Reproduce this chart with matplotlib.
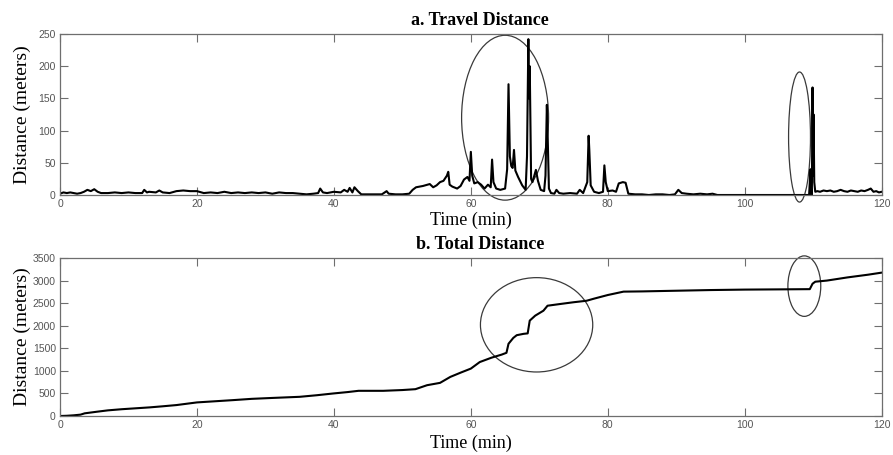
import numpy as np
import matplotlib
matplotlib.use("Agg")
from matplotlib import pyplot as plt
from matplotlib.patches import Ellipse

# a. travel distance per sample: (time min, meters)
travel = [
    (0, 2), (0.5, 4), (1, 3), (1.5, 4), (2, 3), (2.5, 2), (3, 3), (3.5, 5), (4, 8),
    (4.5, 6), (5, 9), (5.5, 5), (6, 3), (7, 3), (8, 4), (9, 3), (10, 4), (11, 3),
    (12, 3), (12.3, 8), (12.7, 4), (13, 5), (14, 4), (14.5, 7), (15, 4), (16, 3),
    (17, 6), (18, 7), (19, 6), (20, 6), (21, 3), (22, 4), (23, 3), (24, 5), (25, 3),
    (26, 4), (27, 3), (28, 4), (29, 3), (30, 4), (31, 2), (32, 4), (33, 3), (34, 3),
    (35, 2), (36, 1), (37, 2), (37.7, 3), (38, 10), (38.4, 4), (39, 3), (40, 5),
    (41, 4), (41.5, 8), (42, 5), (42.3, 11), (42.7, 4), (43, 12), (43.5, 6), (44, 1),
    (45, 1), (46, 1), (47, 1), (47.7, 6), (48, 2), (49, 1), (50, 1), (51, 2),
    (51.5, 8), (52, 12), (53, 14), (54, 17), (54.5, 12), (55, 15), (55.5, 20),
    (56, 22), (56.5, 30), (56.7, 36), (56.9, 16), (57.3, 13), (58, 10), (58.5, 14),
    (59, 24), (59.5, 28), (59.8, 22), (60.0, 67), (60.2, 30), (60.5, 18), (61, 20),
    (61.5, 16), (62, 10), (62.5, 16), (62.9, 12), (63.1, 55), (63.3, 20), (63.7, 10),
    (64.3, 8), (65, 10), (65.3, 40), (65.5, 172), (65.7, 60), (65.9, 45), (66.1, 42),
    (66.3, 70), (66.5, 38), (66.9, 28), (67.5, 15), (68, 8), (68.2, 60), (68.4, 242),
    (68.5, 150), (68.6, 200), (68.8, 25), (69, 20), (69.5, 39), (69.8, 22),
    (70.2, 8), (70.7, 6), (70.9, 30), (71.1, 140), (71.2, 100), (71.4, 10),
    (71.7, 3), (72.2, 2), (72.5, 8), (72.9, 3), (73.5, 2), (74.5, 3), (75.5, 2),
    (75.9, 8), (76.4, 3), (77, 20), (77.2, 92), (77.3, 70), (77.5, 15), (78, 5),
    (78.7, 3), (79.3, 5), (79.5, 46), (79.7, 20), (80, 6), (80.7, 7), (81.2, 5),
    (81.6, 18), (82.2, 20), (82.6, 19), (83, 2), (84, 1), (85, 1), (86, 0), (87, 1),
    (88, 1), (89, 0), (89.8, 1), (90.3, 8), (90.8, 3), (91.5, 2), (92.5, 1),
    (93.5, 2), (94.5, 1), (95.3, 2), (96, 0), (100, 0), (105, 0), (109.4, 0),
    (109.6, 40), (109.7, 0), (109.8, 0), (109.9, 167), (110.0, 30), (110.05, 125),
    (110.15, 20), (110.3, 5), (110.6, 6), (111, 5), (111.5, 7), (112, 6), (112.5, 7),
    (113, 5), (113.5, 6), (114, 8), (114.5, 6), (115, 5), (115.5, 7), (116, 6),
    (116.5, 5), (117, 7), (117.5, 6), (118, 8), (118.4, 10), (118.8, 5), (119.2, 6),
    (119.6, 4), (120, 5),
]

# b. total distance: (time min, meters)
total = [
    (0, 0), (1, 5), (2, 15), (3, 30), (3.6, 59), (5.4, 95), (7, 125), (9, 150),
    (11, 170), (13.1, 191), (15, 215), (17, 242), (20, 301), (22.5, 325),
    (25.3, 352), (28, 380), (31, 400), (35, 425), (37.5, 460), (39.9, 499),
    (42, 530), (43.6, 558), (47.2, 558), (50, 575), (51.9, 594), (53.6, 682),
    (55.5, 734), (57, 866), (58.5, 960), (60, 1050), (61.3, 1195), (63, 1291),
    (64.5, 1360), (65.2, 1400), (65.5, 1600), (66.2, 1730), (66.7, 1790),
    (67.7, 1820), (68.3, 1830), (68.6, 2113), (69.4, 2223), (70.6, 2333),
    (71.2, 2443), (73, 2480), (75, 2520), (76.9, 2553), (78, 2600), (80, 2680),
    (82.3, 2755), (85, 2760), (90, 2775), (95, 2790), (100, 2800), (105, 2805),
    (109.5, 2810), (109.9, 2930), (110.3, 2975), (112, 3000), (115, 3070),
    (118, 3130), (120, 3176),
]

# highlighted regions: (center t, center d, width t, height d)
circles_a = [(65.0, 120, 12.7, 256), (108.0, 90, 3.2, 202)]
circles_b = [(69.6, 2020, 16.4, 2090), (108.7, 2877, 4.8, 1340)]

t_a, d_a = zip(*travel)
t_b, d_b = zip(*total)

W, H = 893, 455
fig = plt.figure(figsize=(W / 100, H / 100), dpi=100)
ax1 = fig.add_axes([60 / W, 1 - 195 / H, 821.7 / W, 161 / H])
ax2 = fig.add_axes([60 / W, 1 - 416 / H, 821.7 / W, 158 / H])

serif = "Liberation Serif"
gray = "#6e6e6e"

panels = [
    (ax1, t_a, d_a, circles_a, "a. Travel Distance", [0, 50, 100, 150, 200, 250], 250, 1.5),
    (ax2, t_b, d_b, circles_b, "b. Total Distance", [0, 500, 1000, 1500, 2000, 2500, 3000, 3500], 3500, 3),
]

for ax, t, d, circles, title, yt, ymax, lp in panels:
    ax.plot(t, d, color="black", lw=1.5)
    for cx, cy, w, h in circles:
        ax.add_patch(Ellipse((cx, cy), w, h, fill=False, edgecolor="#3a3a3a",
                             lw=0.9, clip_on=False))
    ax.set_xlim(0, 120)
    ax.set_ylim(0, ymax)
    ax.set_xticks([0, 20, 40, 60, 80, 100, 120])
    ax.set_yticks(yt)
    ax.tick_params(direction="in", length=6, width=0.8, color=gray, top=True, right=True,
                   labelsize=7.5, labelcolor="#555555", pad=3)
    for lab in ax.get_xticklabels() + ax.get_yticklabels():
        lab.set_family("Liberation Sans")
    for s in ax.spines.values():
        s.set_color(gray)
        s.set_linewidth(0.9)
    ax.set_title(title, family=serif, fontweight="bold", fontsize=13, x=0.511, pad=6.5)
    ax.set_xlabel("Time (min)", family=serif, fontsize=13, labelpad=lp)
    ax.set_ylabel("Distance (meters)", family=serif, fontsize=14)
    ax.yaxis.set_label_coords(-0.035, 0.5)

fig.savefig("out.png", dpi=100)
